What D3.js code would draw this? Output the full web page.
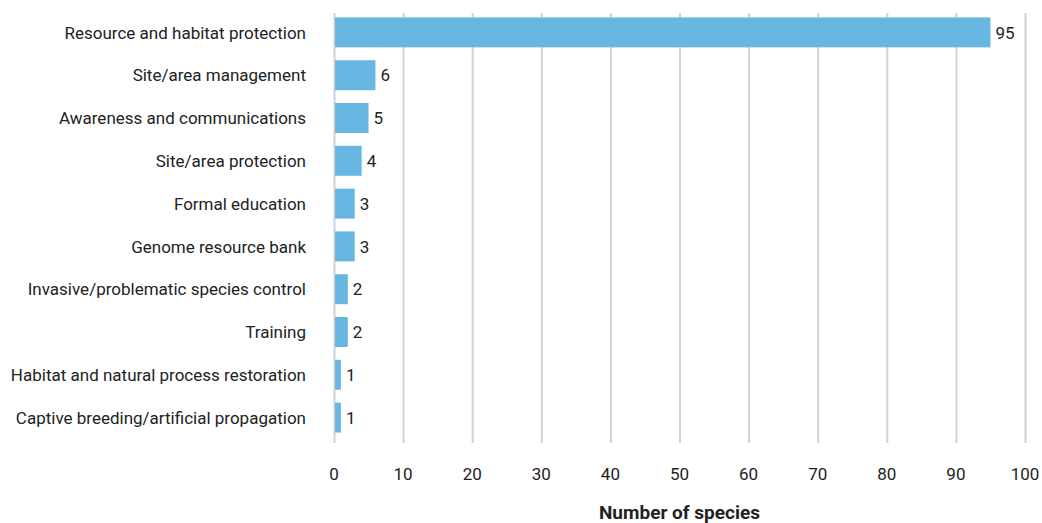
<!DOCTYPE html>
<html>
<head>
<meta charset="utf-8">
<script src="https://cdn.jsdelivr.net/npm/d3@7"></script>
<style>
  body { margin: 0; background: #fff; }
  svg text { font-family: "Liberation Sans Narrow", "Roboto", sans-serif; fill: #222; }
  .grid line { stroke: #d2d2d2; stroke-width: 2; }
  .grid path { display: none; }
</style>
</head>
<body>
<div id="chart"></div>
<script>
var categories = [
    "Resource and habitat protection",
    "Site/area management",
    "Awareness and communications",
    "Site/area protection",
    "Formal education",
    "Genome resource bank",
    "Invasive/problematic species control",
    "Training",
    "Habitat and natural process restoration",
    "Captive breeding/artificial propagation"
];
var speciesCount = [95, 6, 5, 4, 3, 3, 2, 2, 1, 1];
var xTicks = [0, 10, 20, 30, 40, 50, 60, 70, 80, 90, 100];

var data = categories.map(function (c, i) {
    return {name: c, value: speciesCount[i]};
});

var margin = {top: 12, right: 17, bottom: 83, left: 334},
    width = 1042 - margin.left - margin.right,
    height = 523 - margin.top - margin.bottom;

var svg = d3.select("#chart").append("svg")
    .attr("width", 1042)
    .attr("height", 523)
    .append("g")
    .attr("transform", "translate(" + margin.left + "," + margin.top + ")");

var x = d3.scaleLinear().domain([0, 100]).range([0, width]);
var y = d3.scaleBand().domain(categories).range([-1, height - 1]).paddingInner(0.3).paddingOuter(0.15);

// gridlines
svg.append("g")
    .attr("class", "grid")
    .attr("transform", "translate(0," + (height + 3) + ")")
    .call(d3.axisBottom(x)
        .tickValues(xTicks)
        .tickSize(-(height + 2))
        .tickFormat("")
    );

// bars
svg.selectAll(".bar")
    .data(data)
    .enter().append("rect")
    .attr("class", "bar")
    .attr("x", x(0) + 1)
    .attr("y", function (d) { return y(d.name); })
    .attr("width", function (d) { return x(d.value) - x(0) - 1; })
    .attr("height", y.bandwidth())
    .style("fill", "#67b7e2");

// value labels
svg.selectAll(".val")
    .data(data)
    .enter().append("text")
    .attr("x", function (d) { return x(d.value) + 5; })
    .attr("y", function (d) { return y(d.name) + y.bandwidth() / 2; })
    .attr("dy", "0.36em")
    .style("font-size", "17px")
    .text(function (d) { return d.value; });

// category labels
svg.selectAll(".cat")
    .data(data)
    .enter().append("text")
    .attr("x", -28)
    .attr("y", function (d) { return y(d.name) + y.bandwidth() / 2; })
    .attr("dy", "0.36em")
    .style("text-anchor", "end")
    .style("font-size", "17px")
    .text(function (d) { return d.name; });

// x tick labels
svg.selectAll(".tick-label")
    .data(xTicks)
    .enter().append("text")
    .attr("x", function (d) { return x(d); })
    .attr("y", height + 34)
    .attr("dy", "0.36em")
    .style("text-anchor", "middle")
    .style("font-size", "17px")
    .text(function (d) { return d; });

svg.append("text")
    .attr("x", width / 2)
    .attr("y", height + 72)
    .attr("dy", "0.36em")
    .style("text-anchor", "middle")
    .style("font-size", "19px")
    .style("font-weight", "bold")
    .text("Number of species");
</script>
</body>
</html>
